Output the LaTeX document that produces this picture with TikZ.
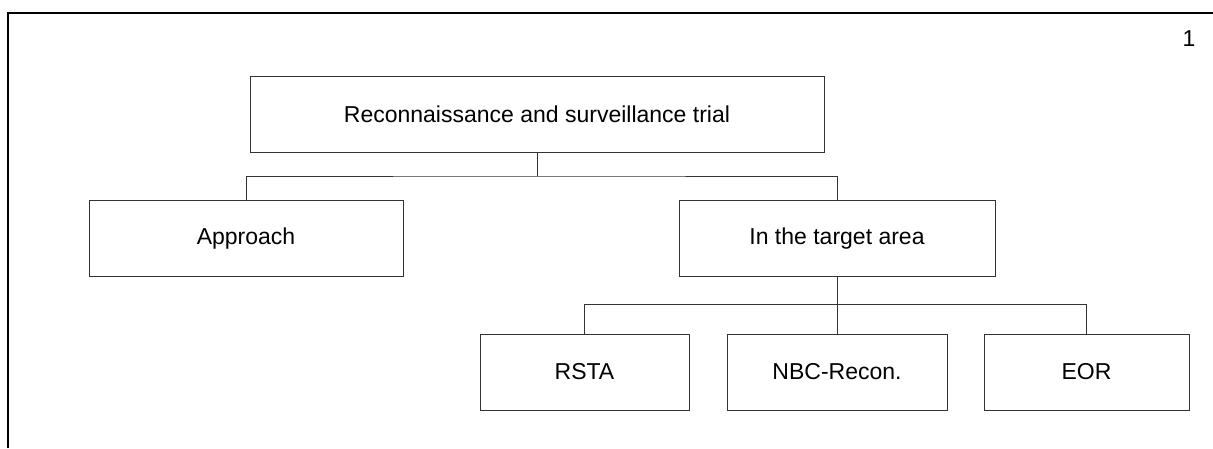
\documentclass[tikz,border=0pt]{standalone}
\usepackage{fontspec}
\setmainfont{Liberation Sans}
\begin{document}
\begin{tikzpicture}[x=1pt,y=-1pt,
  box/.style={draw=black!80,line width=1pt,fill=white,inner sep=0pt,anchor=center,
    font=\fontsize{23}{27}\selectfont},
  conn/.style={draw=black!80,line width=1pt},
  frame/.style={draw=black,line width=2pt}]
\useasboundingbox (0,0) rectangle (1213,448);
\draw[frame] (8,448) -- (8,13.3) -- (1213,13.3);
\node[font=\fontsize{23}{27}\selectfont,inner sep=0pt] (pg) at (1189,38.7) {1};
\node[box,minimum width=574pt,minimum height=76pt] (top) at (537,114) {Reconnaissance and surveillance trial};
\node[box,minimum width=314pt,minimum height=75.5pt] (app) at (246,238.3) {Approach};
\node[box,minimum width=316pt,minimum height=75.5pt] (tgt) at (837,238.3) {In the target area};
\node[box,minimum width=209pt,minimum height=76pt] (rsta) at (584.5,372) {RSTA};
\node[box,minimum width=220pt,minimum height=76pt] (nbc) at (837,372) {NBC-Recon.};
\node[box,minimum width=205pt,minimum height=76pt] (eor) at (1086.5,372) {EOR};
\coordinate (j1) at (537,176);
\coordinate (j2) at (837,304.5);
\draw[conn] (top.south) -- (j1);
\draw[conn] (app.north) |- (j1) -| (tgt.north);
\draw[conn] (tgt.south) -- (nbc.north);
\draw[conn] (rsta.north) |- (j2) -| (eor.north);
\end{tikzpicture}
\end{document}
